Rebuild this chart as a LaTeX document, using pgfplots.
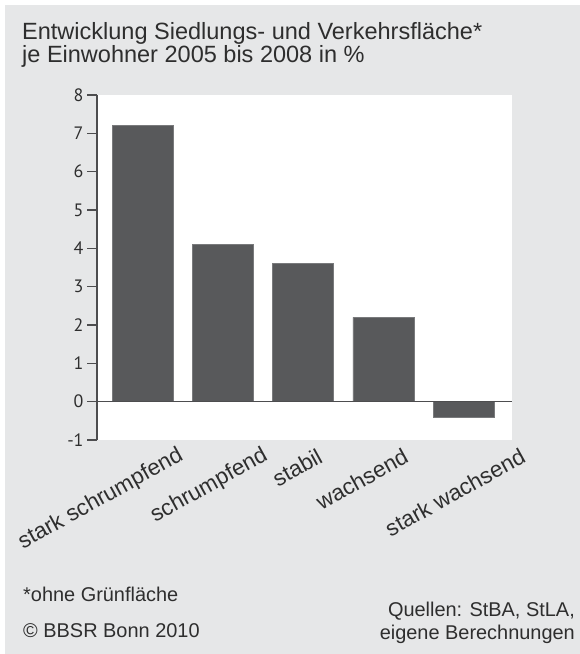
\documentclass[border=0pt]{standalone}
\usepackage{fontspec}
\setmainfont{Liberation Sans}
\newfontfamily\myriad{PT Sans}
\usepackage{pgfplots}
\pgfplotsset{compat=1.18}
\definecolor{bggray}{HTML}{E6E7E8}
\definecolor{barfill}{HTML}{58595B}
\definecolor{txt}{HTML}{2E2E2E}
\definecolor{axisgray}{HTML}{4D4D4F}
\begin{document}
\begin{tikzpicture}
\useasboundingbox (0,0) rectangle (580bp,654bp);
\fill[white] (0,0) rectangle (580bp,654bp);
\fill[bggray] (5bp,0) rectangle (580bp,649bp);
\node[anchor=base west, font=\fontsize{23.6}{23.6}\selectfont, text=txt, inner sep=0] at (22bp,614bp) {Entwicklung Siedlungs- und Verkehrsfläche*};
\node[anchor=base west, font=\fontsize{23.6}{23.6}\selectfont, text=txt, inner sep=0] at (22bp,591bp) {je Einwohner 2005 bis 2008 in \%};
\node[anchor=base west, font=\fontsize{20}{20}\selectfont, text=txt, inner sep=0] at (23bp,52bp) {*ohne Grünfläche};
\node[anchor=base west, font=\fontsize{20}{20}\selectfont, text=txt, inner sep=0] at (23bp,17bp) {© BBSR Bonn 2010};
\node[anchor=base east, font=\fontsize{20}{20}\selectfont, text=txt, inner sep=0] at (575bp,38bp) {Quellen: StBA, StLA,};
\node[anchor=base east, font=\fontsize{20}{20}\selectfont, text=txt, inner sep=0] at (575bp,15bp) {eigene Berechnungen};
\begin{axis}[
  at={(97bp,214bp)}, anchor=south west, scale only axis,
  width=415bp, height=345bp,
  xmin=-0.567, xmax=4.6, ymin=-1, ymax=8,
  axis background/.style={fill=white},
  axis y line=left, axis x line=bottom,
  axis line style={-},
  x axis line style={draw=none},
  y axis line style={draw=axisgray, line width=1.3bp},
  ytick={-1,0,...,8}, yticklabels={-1,0,1,2,3,4,5,6,7,8},
  tick align=outside, major tick length=10bp,
  ytick style={draw=axisgray, line width=1.3bp},
  xtick={0,1.052,1.725,2.796,4.253},
  xticklabels={stark schrumpfend, schrumpfend, stabil, wachsend, stark wachsend},
  xtick style={draw=none},
  xticklabel style={xshift=42bp, yshift=-3bp, rotate=29, anchor=east, font=\fontsize{22.5}{22.5}\selectfont, text=txt},
  yticklabel style={font=\myriad\fontsize{18}{18}\selectfont, text=txt},
  ybar, bar width=0.76,
]
\addplot[fill=barfill, draw=barfill!80!white, line width=0.6bp] coordinates {(0,7.2) (1,4.1) (2,3.6) (3,2.2) (4,-0.4)};
\draw[axisgray, line width=1.3bp] (axis cs:-0.567,0) -- (axis cs:4.6,0);
\end{axis}
\end{tikzpicture}
\end{document}
